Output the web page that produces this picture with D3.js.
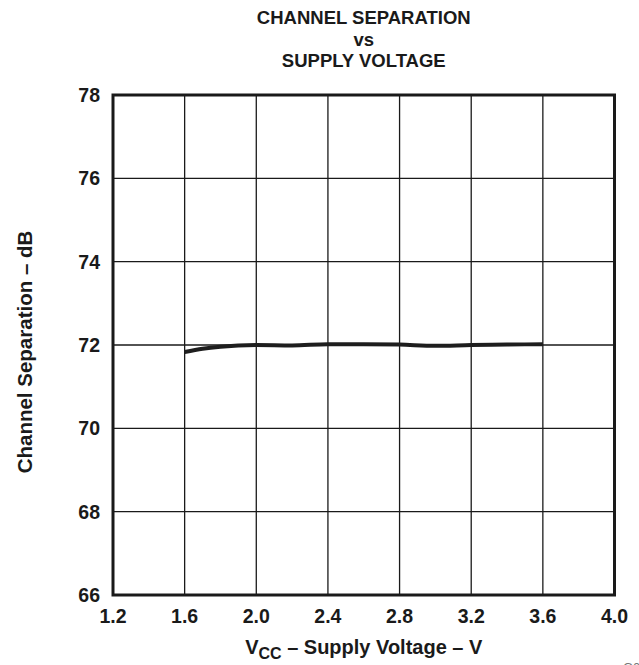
<!DOCTYPE html>
<html>
<head>
<meta charset="utf-8">
<script src="https://cdn.jsdelivr.net/npm/d3@7"></script>
<style>
  body { margin: 0; background: #fff; }
  text { font-family: 'Liberation Sans', Arial, sans-serif; font-weight: bold; fill: #1a1a1a; }
</style>
</head>
<body>
<svg id="chart" width="639" height="665"></svg>
<script>
'use strict';

// supply voltage (V) and channel separation (dB)
const voltage = [1.6, 1.7, 1.8, 2.0, 2.2, 2.4, 2.6, 2.8, 3.0, 3.2, 3.4, 3.6];
const separation = [71.83, 71.91, 71.96, 72.0, 71.99, 72.02, 72.02, 72.01, 71.98, 72.0, 72.01, 72.02];

const xTicks = [1.2, 1.6, 2.0, 2.4, 2.8, 3.2, 3.6, 4.0];
const yTicks = [66, 68, 70, 72, 74, 76, 78];
const titleLines = ['CHANNEL SEPARATION', 'vs', 'SUPPLY VOLTAGE'];

const margin = { left: 113, right: 614.5, top: 95, bottom: 595 };

const svg = d3.select('#chart');

const x = d3.scaleLinear().domain([1.2, 4.0]).range([margin.left, margin.right]);
const y = d3.scaleLinear().domain([66, 78]).range([margin.bottom, margin.top]);

// grid
svg.append('g')
  .selectAll('line')
  .data(xTicks)
  .enter()
  .append('line')
  .attr('x1', (d) => x(d))
  .attr('x2', (d) => x(d))
  .attr('y1', margin.top)
  .attr('y2', margin.bottom)
  .attr('stroke', '#1a1a1a')
  .attr('stroke-width', 1.3);

svg.append('g')
  .selectAll('line')
  .data(yTicks)
  .enter()
  .append('line')
  .attr('x1', margin.left)
  .attr('x2', margin.right)
  .attr('y1', (d) => y(d))
  .attr('y2', (d) => y(d))
  .attr('stroke', '#1a1a1a')
  .attr('stroke-width', 1.3);

// frame
svg.append('rect')
  .attr('x', margin.left)
  .attr('y', margin.top)
  .attr('width', margin.right - margin.left)
  .attr('height', margin.bottom - margin.top)
  .attr('fill', 'none')
  .attr('stroke', '#1a1a1a')
  .attr('stroke-width', 3);

// tick labels
svg.append('g')
  .selectAll('text')
  .data(xTicks)
  .enter()
  .append('text')
  .attr('x', (d) => x(d))
  .attr('y', 623)
  .attr('text-anchor', 'middle')
  .style('font-size', '19.5px')
  .text((d) => d.toFixed(1));

svg.append('g')
  .selectAll('text')
  .data(yTicks)
  .enter()
  .append('text')
  .attr('x', 100)
  .attr('y', (d) => y(d))
  .attr('dy', '0.36em')
  .attr('text-anchor', 'end')
  .style('font-size', '19.5px')
  .text((d) => d);

// curve
const line = d3.line()
  .x((d, i) => x(voltage[i]))
  .y((d) => y(d))
  .curve(d3.curveMonotoneX);

svg.append('path')
  .datum(separation)
  .attr('d', line)
  .attr('fill', 'none')
  .attr('stroke', '#1e1e1e')
  .attr('stroke-width', 4);

// title
svg.append('g')
  .selectAll('text')
  .data(titleLines)
  .enter()
  .append('text')
  .attr('x', (margin.left + margin.right) / 2)
  .attr('y', (d, i) => 24 + i * 21.5)
  .attr('text-anchor', 'middle')
  .style('font-size', '18.5px')
  .text((d) => d);

// axis titles
const xt = svg.append('text')
  .attr('x', (margin.left + margin.right) / 2)
  .attr('y', 654)
  .attr('text-anchor', 'middle')
  .style('font-size', '20px');
xt.append('tspan').text('V');
xt.append('tspan').attr('dy', 5).style('font-size', '16px').text('CC');
xt.append('tspan').attr('dy', -5).text(' – Supply Voltage – V');

svg.append('text')
  .attr('transform', 'translate(32,352) rotate(-90)')
  .attr('text-anchor', 'middle')
  .style('font-size', '20.5px')
  .text('Channel Separation – dB');

// figure id, cut off at the corner as in the original
svg.append('text')
  .attr('x', 623)
  .attr('y', 672)
  .style('font-size', '13px')
  .style('font-weight', 'normal')
  .style('fill', '#777')
  .text('G006');
</script>
</body>
</html>
